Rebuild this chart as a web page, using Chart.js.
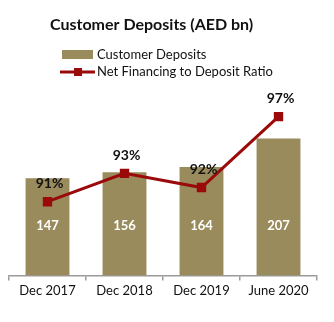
<!DOCTYPE html>
<html>
<head>
<meta charset="utf-8">
<script src="https://cdn.jsdelivr.net/npm/chart.js@4"></script>
<style>
  html, body { margin: 0; padding: 0; background: #fff; }
  #wrap { width: 334px; height: 322px; }
</style>
</head>
<body>
<div id="wrap"><canvas id="myChart" width="334" height="322"></canvas></div>
<script>
const labels = ['Dec 2017', 'Dec 2018', 'Dec 2019', 'June 2020'];
const deposits = [147, 156, 164, 207];
const ratio = [91, 93, 92, 97];

const barColor = '#9a8b5c';
const lineColor = '#9b0a0a';
const font = 'Lato, "Open Sans", sans-serif';

// title, legend and value labels are painted by hand
const decorations = {
  id: 'decorations',
  afterDatasetsDraw(chart) {
    const c = chart.ctx;
    c.save();

    c.fillStyle = '#111';
    c.font = 'bold 16px ' + font;
    c.textAlign = 'left';
    c.textBaseline = 'middle';
    c.fillText('Customer Deposits (AED bn)', 50, 25);

    // legend
    c.fillStyle = barColor;
    c.fillRect(62, 50, 31, 9);
    c.strokeStyle = lineColor;
    c.lineWidth = 3;
    c.beginPath();
    c.moveTo(60, 72);
    c.lineTo(95, 72);
    c.stroke();
    c.fillStyle = lineColor;
    c.fillRect(74, 68, 8, 8);
    c.fillStyle = '#111';
    c.font = '13px ' + font;
    c.fillText('Customer Deposits', 97, 55);
    c.fillText('Net Financing to Deposit Ratio', 97, 72);

    // bar values, white inside the bars
    const bars = chart.getDatasetMeta(1).data;
    c.fillStyle = '#fff';
    c.font = 'bold 13px ' + font;
    c.textAlign = 'center';
    bars.forEach(function(bar, i) {
      c.fillText(deposits[i], bar.x, bar.base - 50);
    });

    // ratio values above the points
    const points = chart.getDatasetMeta(0).data;
    c.fillStyle = '#111';
    c.font = 'bold 14px ' + font;
    points.forEach(function(p, i) {
      c.fillText(ratio[i] + '%', p.x + 2, p.y - 18);
    });

    c.restore();
  }
};

const ctx = document.getElementById('myChart').getContext('2d');
const myChart = new Chart(ctx, {
  type: 'bar',
  data: {
    labels: labels,
    datasets: [
      {
        type: 'line',
        label: 'Net Financing to Deposit Ratio',
        data: ratio,
        yAxisID: 'y1',
        borderColor: lineColor,
        backgroundColor: lineColor,
        borderWidth: 3,
        pointStyle: 'rect',
        pointRadius: 4.5,
        tension: 0,
        order: 0,
      },
      {
        type: 'bar',
        label: 'Customer Deposits',
        data: deposits,
        yAxisID: 'y',
        backgroundColor: barColor,
        barPercentage: 0.57,
        categoryPercentage: 1,
        order: 1,
      },
    ],
  },
  options: {
    responsive: false,
    animation: false,
    layout: { padding: { top: 77, left: 9, right: 17, bottom: 20 } },
    plugins: {
      legend: { display: false },
      title: { display: false },
      tooltip: { enabled: false },
    },
    scales: {
      x: {
        offset: true,
        grid: {
          offset: true,
          drawOnChartArea: false,
          drawTicks: true,
          tickLength: 5,
          color: '#9a9a9a',
          lineWidth: 1.5,
        },
        border: { color: '#9a9a9a', width: 1.5 },
        ticks: { color: '#111', font: { family: font, size: 13 }, padding: 3 },
      },
      y: { display: false, min: 0, max: 300 },
      y1: { display: false, min: 85.8, max: 99.8 },
    },
  },
  plugins: [decorations],
});
</script>
</body>
</html>
